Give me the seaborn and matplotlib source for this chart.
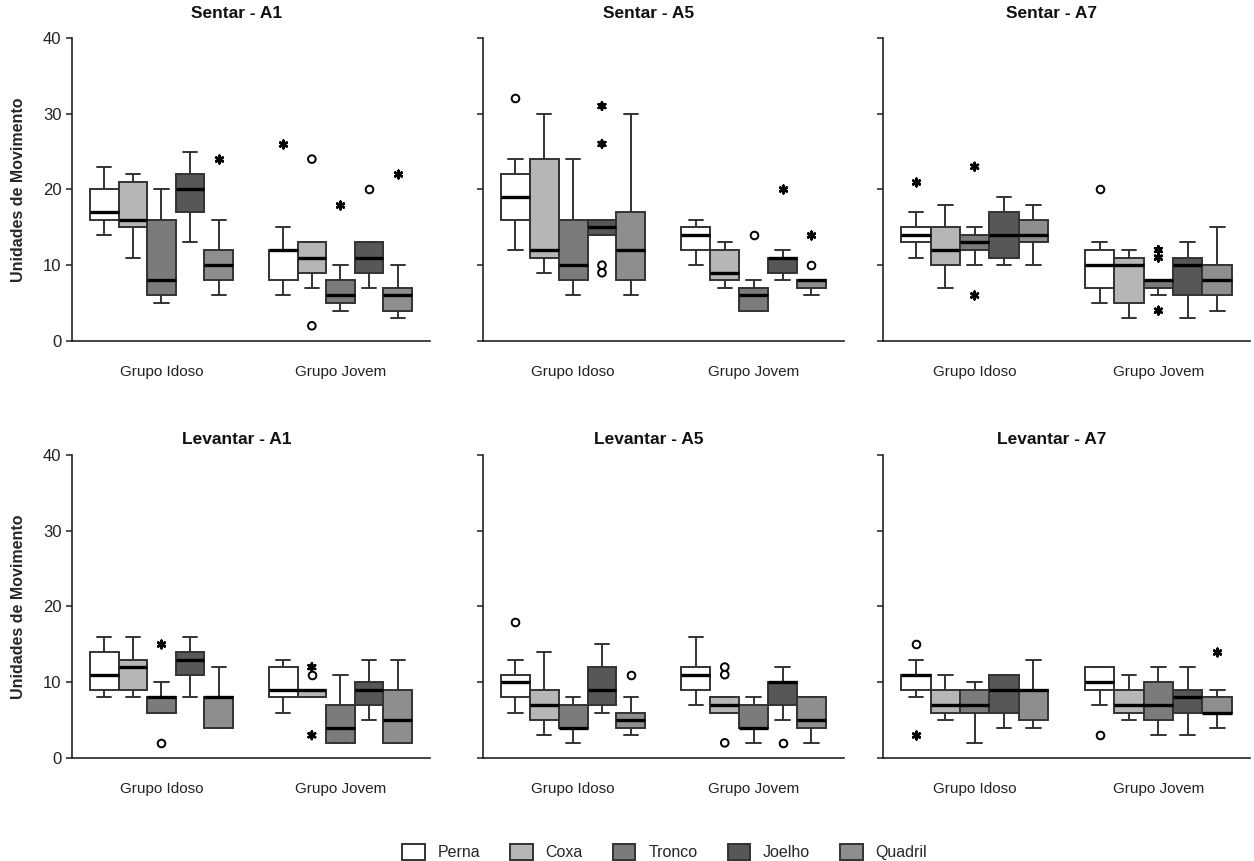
import numpy as np
import pandas as pd
import matplotlib
matplotlib.use("Agg")
import matplotlib.pyplot as plt
import seaborn as sns

sns.set_theme(style="white")
plt.rcParams['font.family'] = ['Liberation Sans', 'DejaVu Sans']

PARTS = ["Perna", "Coxa", "Tronco", "Joelho", "Quadril"]
GROUPS = ["Grupo Idoso", "Grupo Jovem"]
PANELS = ["Sentar - A1", "Sentar - A5", "Sentar - A7",
          "Levantar - A1", "Levantar - A5", "Levantar - A7"]
COLORS = ["#ffffff", "#b6b6b6", "#7b7b7b", "#575757", "#8e8e8e"]
YTICKS = [0, 10, 20, 30, 40]

# five-number summaries (min, Q1, median, Q3, max) per part, in PARTS order
sentar_a1_idoso = [[14, 16, 17, 20, 23], [11, 15, 16, 21, 22], [5, 6, 8, 16, 20], [13, 17, 20, 22, 25], [6, 8, 10, 12, 16]]
sentar_a1_jovem = [[6, 8, 12, 12, 15], [7, 9, 11, 13, 13], [4, 5, 6, 8, 10], [7, 9, 11, 13, 13], [3, 4, 6, 7, 10]]
sentar_a5_idoso = [[12, 16, 19, 22, 24], [9, 11, 12, 24, 30], [6, 8, 10, 16, 24], [14, 14, 15, 16, 16], [6, 8, 12, 17, 30]]
sentar_a5_jovem = [[10, 12, 14, 15, 16], [7, 8, 9, 12, 13], [4, 4, 6, 7, 8], [8, 9, 11, 11, 12], [6, 7, 8, 8, 8]]
sentar_a7_idoso = [[11, 13, 14, 15, 17], [7, 10, 12, 15, 18], [10, 12, 13, 14, 15], [10, 11, 14, 17, 19], [10, 13, 14, 16, 18]]
sentar_a7_jovem = [[5, 7, 10, 12, 13], [3, 5, 10, 11, 12], [6, 7, 8, 8, 8], [3, 6, 10, 11, 13], [4, 6, 8, 10, 15]]
levantar_a1_idoso = [[8, 9, 11, 14, 16], [8, 9, 12, 13, 16], [6, 6, 8, 8, 10], [8, 11, 13, 14, 16], [4, 4, 8, 8, 12]]
levantar_a1_jovem = [[6, 8, 9, 12, 13], [8, 8, 9, 9, 9], [2, 2, 4, 7, 11], [5, 7, 9, 10, 13], [2, 2, 5, 9, 13]]
levantar_a5_idoso = [[6, 8, 10, 11, 13], [3, 5, 7, 9, 14], [2, 4, 4, 7, 8], [6, 7, 9, 12, 15], [3, 4, 5, 6, 8]]
levantar_a5_jovem = [[7, 9, 11, 12, 16], [6, 6, 7, 8, 8], [2, 4, 4, 7, 8], [5, 7, 10, 10, 12], [2, 4, 5, 8, 8]]
levantar_a7_idoso = [[8, 9, 11, 11, 13], [5, 6, 7, 9, 11], [2, 6, 7, 9, 10], [4, 6, 9, 11, 11], [4, 5, 9, 9, 13]]
levantar_a7_jovem = [[7, 9, 10, 12, 12], [5, 6, 7, 9, 11], [3, 5, 7, 10, 12], [3, 6, 8, 9, 12], [4, 6, 6, 8, 9]]

# outliers: (group, part, value); circles = outliers, stars = extremes
sentar_a1_circ = [("Grupo Jovem", "Coxa", 24), ("Grupo Jovem", "Coxa", 2), ("Grupo Jovem", "Joelho", 20)]
sentar_a1_star = [("Grupo Idoso", "Quadril", 24), ("Grupo Jovem", "Perna", 26),
                  ("Grupo Jovem", "Tronco", 18), ("Grupo Jovem", "Quadril", 22)]
sentar_a5_circ = [("Grupo Idoso", "Perna", 32), ("Grupo Idoso", "Joelho", 10), ("Grupo Idoso", "Joelho", 9),
                  ("Grupo Jovem", "Tronco", 14), ("Grupo Jovem", "Quadril", 10)]
sentar_a5_star = [("Grupo Idoso", "Joelho", 31), ("Grupo Idoso", "Joelho", 26),
                  ("Grupo Jovem", "Joelho", 20), ("Grupo Jovem", "Quadril", 14)]
sentar_a7_circ = [("Grupo Jovem", "Perna", 20)]
sentar_a7_star = [("Grupo Idoso", "Perna", 21), ("Grupo Idoso", "Tronco", 23), ("Grupo Idoso", "Tronco", 6),
                  ("Grupo Jovem", "Tronco", 12), ("Grupo Jovem", "Tronco", 11), ("Grupo Jovem", "Tronco", 4)]
levantar_a1_circ = [("Grupo Idoso", "Tronco", 2), ("Grupo Jovem", "Coxa", 11)]
levantar_a1_star = [("Grupo Idoso", "Tronco", 15), ("Grupo Jovem", "Coxa", 12), ("Grupo Jovem", "Coxa", 3)]
levantar_a5_circ = [("Grupo Idoso", "Perna", 18), ("Grupo Idoso", "Quadril", 11),
                    ("Grupo Jovem", "Coxa", 12), ("Grupo Jovem", "Coxa", 11), ("Grupo Jovem", "Coxa", 2),
                    ("Grupo Jovem", "Joelho", 2)]
levantar_a5_star = []
levantar_a7_circ = [("Grupo Idoso", "Perna", 15), ("Grupo Jovem", "Perna", 3)]
levantar_a7_star = [("Grupo Idoso", "Perna", 3), ("Grupo Jovem", "Quadril", 14)]

summaries = [
    (sentar_a1_idoso, sentar_a1_jovem), (sentar_a5_idoso, sentar_a5_jovem), (sentar_a7_idoso, sentar_a7_jovem),
    (levantar_a1_idoso, levantar_a1_jovem), (levantar_a5_idoso, levantar_a5_jovem), (levantar_a7_idoso, levantar_a7_jovem),
]
circles = [sentar_a1_circ, sentar_a5_circ, sentar_a7_circ, levantar_a1_circ, levantar_a5_circ, levantar_a7_circ]
stars = [sentar_a1_star, sentar_a5_star, sentar_a7_star, levantar_a1_star, levantar_a5_star, levantar_a7_star]

palette = dict(zip(PARTS, COLORS))

fig = plt.figure(figsize=(12.54, 8.61), dpi=100)
lefts = [0.0574, 0.385, 0.704]
widths = [0.2855, 0.288, 0.293]
bottoms = [0.604, 0.1196]
height = 0.352

legend_handles = None
for i, title in enumerate(PANELS):
    r, c = divmod(i, 3)
    ax = fig.add_axes([lefts[c], bottoms[r], widths[c], height])
    rows = []
    for g, grp in enumerate(GROUPS):
        for p, part in enumerate(PARTS):
            for v in summaries[i][g][p]:
                rows.append((grp, part, v))
    df = pd.DataFrame(rows, columns=["group", "part", "value"])
    sns.boxplot(data=df, x="group", y="value", hue="part", order=GROUPS, hue_order=PARTS,
                palette=palette, saturation=1, whis=(0, 100), width=0.8, gap=0,
                showfliers=False, linewidth=1.4, linecolor="#333333",
                medianprops={"color": "black", "linewidth": 2.4},
                ax=ax, legend=(i == 0))
    if len(circles[i]):
        dc = pd.DataFrame(circles[i], columns=["group", "part", "value"])
        sns.stripplot(data=dc, x="group", y="value", hue="part", order=GROUPS, hue_order=PARTS,
                      palette={p: "white" for p in PARTS}, dodge=True, jitter=False,
                      marker="o", size=5.5, edgecolor="black", linewidth=1.4, ax=ax, legend=False)
    if len(stars[i]):
        ds = pd.DataFrame(stars[i], columns=["group", "part", "value"])
        sns.stripplot(data=ds, x="group", y="value", hue="part", order=GROUPS, hue_order=PARTS,
                      palette={p: "black" for p in PARTS}, dodge=True, jitter=False,
                      marker=(6, 2, 0), size=5.5, linewidth=1.8, ax=ax, legend=False)
    if i == 0:
        leg = ax.get_legend()
        legend_handles = (leg.legend_handles, [t.get_text() for t in leg.texts])
        leg.remove()

    ax.set_xlim(-0.5, 1.5)
    ax.set_ylim(0, 40)
    ax.set_yticks(YTICKS)
    if c == 0:
        ax.set_yticklabels([str(t) for t in YTICKS], fontsize=12, color="#222222")
        ax.set_ylabel("Unidades de Movimento", fontsize=11.5, fontweight="bold", labelpad=12)
    else:
        ax.set_yticklabels([])
        ax.set_ylabel("")
    ax.set_xlabel("")
    ax.set_xticks([0, 1])
    ax.set_xticklabels(GROUPS, fontsize=11, color="#222222")
    ax.set_xticks([0.5], minor=True)
    ax.tick_params(axis="x", which="major", length=0, pad=17)
    ax.tick_params(axis="x", which="minor", length=5, width=1.1, direction="out", color="#222222")
    ax.tick_params(axis="y", which="major", length=4, width=1.1, direction="out", left=True, color="#222222")
    sns.despine(ax=ax)
    for s in ["left", "bottom"]:
        ax.spines[s].set_color("#222222")
        ax.spines[s].set_linewidth(1.2)
    ax.set_title(title, fontsize=12.5, fontweight="bold", x=0.46, pad=(14 if r == 0 else 8), color="#111111")

handles, labels = legend_handles
fig.legend(handles, labels, loc="center", bbox_to_anchor=(0.53, 1 - 852 / 861), ncol=5, frameon=False,
           fontsize=11.5, handlelength=1.4, handleheight=1.2, columnspacing=1.9, handletextpad=0.8)

fig.savefig("out.png", dpi=100)
